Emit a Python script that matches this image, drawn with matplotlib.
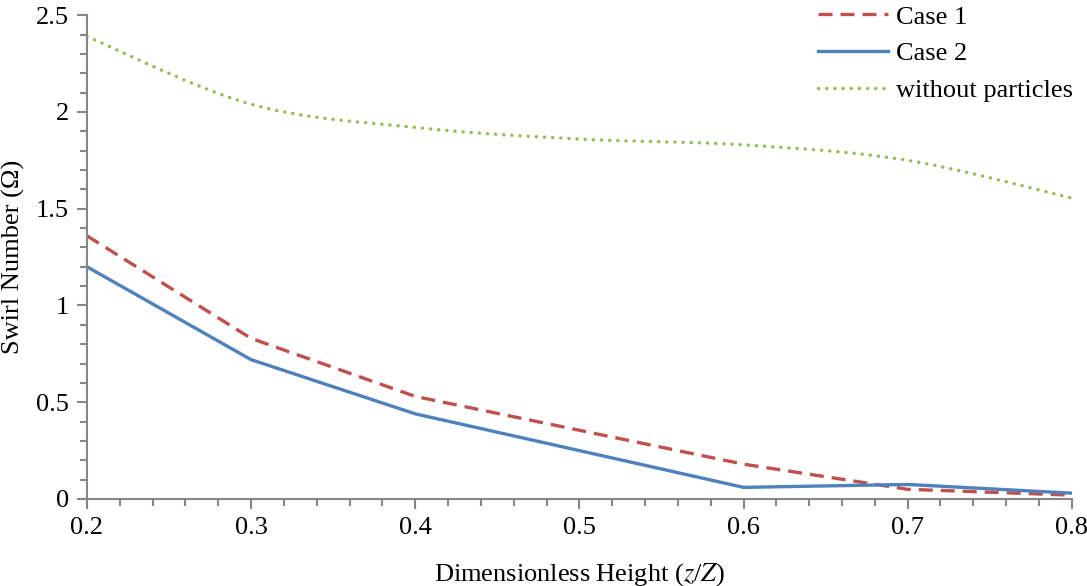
import numpy as np
import matplotlib.pyplot as plt
from matplotlib.ticker import MultipleLocator

x = [0.2, 0.3, 0.4, 0.6, 0.7, 0.8]
case1 = [1.36, 0.83, 0.53, 0.18, 0.05, 0.02]
case2 = [1.20, 0.72, 0.44, 0.06, 0.075, 0.03]

x_np = [0.2, 0.3, 0.4, 0.5, 0.6, 0.7, 0.8]
without = [2.39, 2.04, 1.92, 1.86, 1.83, 1.75, 1.555]


def smooth(xs, ys, n=30):
    # Catmull-Rom curve through the points, like Excel's smoothed line
    p = np.column_stack([xs, ys]).astype(float)
    p = np.vstack([p[0], p, p[-1]])
    out = []
    for i in range(1, len(p) - 2):
        p0, p1, p2, p3 = p[i - 1], p[i], p[i + 1], p[i + 2]
        t = np.linspace(0, 1, n, endpoint=False)[:, None]
        seg = 0.5 * ((2 * p1) + (-p0 + p2) * t + (2 * p0 - 5 * p1 + 4 * p2 - p3) * t ** 2
                     + (-p0 + 3 * p1 - 3 * p2 + p3) * t ** 3)
        out.append(seg)
    out.append(p[-2][None, :])
    out = np.vstack(out)
    return out[:, 0], out[:, 1]


plt.rcParams['font.family'] = ['Liberation Serif', 'DejaVu Serif']
plt.rcParams['mathtext.fontset'] = 'stix'

fig = plt.figure(figsize=(10.87, 5.86), dpi=100)
ax = fig.add_axes([0.080, 0.1485, 0.906, 0.8255])

ax.plot(x, case1, color='#C0504D', lw=2.4, linestyle=(0, (4.2, 2.4)), label='Case 1')
ax.plot(x, case2, color='#4F81BD', lw=2.4, label='Case 2')
sx, sy = smooth(x_np, without)
ax.plot(sx, sy, color='#9BBB59', lw=2.5, linestyle=(0, (0.05, 2.3)),
        dash_capstyle='round', label='without particles')

ax.set_xlim(0.2, 0.8)
ax.set_ylim(0, 2.5)
ax.xaxis.set_major_locator(MultipleLocator(0.1))
ax.xaxis.set_minor_locator(MultipleLocator(0.02))
ax.yaxis.set_major_locator(MultipleLocator(0.5))
ax.yaxis.set_minor_locator(MultipleLocator(0.1))
ax.xaxis.set_major_formatter(plt.FuncFormatter(lambda v, p: f'{v:.1f}'))
ax.yaxis.set_major_formatter(plt.FuncFormatter(lambda v, p: f'{v:g}'))

for s in ['top', 'right']:
    ax.spines[s].set_visible(False)
for s in ['left', 'bottom']:
    ax.spines[s].set_color('#868686')
    ax.spines[s].set_linewidth(1.5)
ax.tick_params(which='both', direction='out', color='#868686', width=1.5)
ax.tick_params(which='major', length=7, labelsize=19, pad=6)
ax.tick_params(which='minor', length=5)

ax.set_xlabel('Dimensionless Height ($z$/$Z$)', fontsize=19, labelpad=16)
ax.set_ylabel('Swirl Number (Ω)', fontsize=19, labelpad=8)

ax.legend(loc='upper right', bbox_to_anchor=(1.025, 1.07), frameon=False, fontsize=19,
          handlelength=2.65, handletextpad=0.3, labelspacing=0.5)

fig.savefig('out.png', dpi=100)
